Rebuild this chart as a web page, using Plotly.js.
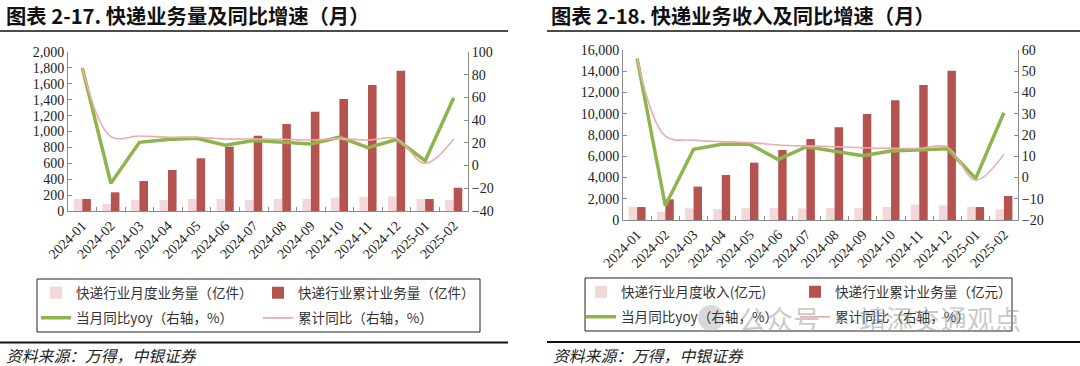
<!DOCTYPE html>
<html>
<head>
<meta charset="utf-8">
<script src="https://cdn.plot.ly/plotly-3.0.1.min.js"></script>
<style>html,body{margin:0;padding:0;background:#fff;}#chart{width:1080px;height:366px;}</style>
</head>
<body>
<div id="chart"></div>
<script>
// ---- data ----
const months = ['2024-01','2024-02','2024-03','2024-04','2024-05','2024-06','2024-07','2024-08','2024-09','2024-10','2024-11','2024-12','2025-01','2025-02'];

// left chart: express volume (亿件) and yoy (%)
const volMonthly = [151, 88, 138, 138, 151, 151, 138, 151, 151, 168, 176, 184, 151, 138];
const volCum     = [151, 235, 377, 516, 663, 809, 947, 1094, 1249, 1409, 1585, 1765, 151, 293];
const volYoy     = [86, -15.6, 20.5, 23, 24, 18, 22, 20.5, 19, 25, 15.8, 23, 4.3, 59.8];
const volCumYoy  = [86, 25.5, 26, 25, 25, 23.4, 23.4, 23.2, 22.5, 23.7, 22.5, 23.7, 2, 23.4];

// right chart: express revenue (亿元) and yoy (%)
const revMonthly = [1250, 784, 1098, 1035, 1130, 1130, 1098, 1130, 1130, 1224, 1443, 1380, 1250, 1004];
const revCum     = [1220, 1948, 3137, 4235, 5396, 6588, 7624, 8725, 9976, 11264, 12706, 14052, 1220, 2259];
const revYoy     = [56, -13.3, 13.3, 15.6, 15.6, 8.5, 14.5, 12.2, 10.3, 12.5, 13, 13.5, -0.4, 30.5];
const revCumYoy  = [56, 19.5, 17.6, 16.9, 16.4, 15.3, 14.8, 14.5, 14, 13.7, 13.7, 14.3, -1.2, 11];

const leftTicks = [-40, -20, 0, 20, 40, 60, 80, 100];

// ---- styles ----
const C_LIGHT = '#F2D8D8';
const C_DARK  = '#B45350';
const C_GREEN = '#8DB54C';
const C_PINK  = '#ECACA9';
const AXIS_C  = '#8a8a8a';
const NUM_FONT = {family: 'Liberation Serif, DejaVu Serif, serif', size: 14, color: '#222'};
const CJK = 'Noto Sans CJK SC, sans-serif';
const W = 1080, H = 366;
const px = v => v / W;
const py = v => (H - v) / H;

const traces = [
  {type:'bar', name:'快递行业月度业务量（亿件）', x: months, y: volMonthly, xaxis:'x', yaxis:'y', marker:{color:C_LIGHT}, legend:'legend'},
  {type:'bar', name:'快递行业累计业务量（亿件）', x: months, y: volCum, xaxis:'x', yaxis:'y', marker:{color:C_DARK}, legend:'legend'},
  {type:'scatter', mode:'lines', name:'当月同比yoy（右轴，%）', x: months, y: volYoy, xaxis:'x', yaxis:'y2', line:{color:C_GREEN, width:3.5}, legend:'legend2'},
  {type:'scatter', mode:'lines', name:'累计同比（右轴，%）', x: months, y: volCumYoy, xaxis:'x', yaxis:'y2', line:{color:C_PINK, width:1.6, shape:'spline', smoothing:1}, legend:'legend2'},

  {type:'bar', name:'快递行业月度收入(亿元)', x: months, y: revMonthly, xaxis:'x2', yaxis:'y3', marker:{color:C_LIGHT}, legend:'legend3'},
  {type:'bar', name:'快递行业累计业务量（亿元）', x: months, y: revCum, xaxis:'x2', yaxis:'y3', marker:{color:C_DARK}, legend:'legend3'},
  {type:'scatter', mode:'lines', name:'当月同比yoy（右轴，%）', x: months, y: revYoy, xaxis:'x2', yaxis:'y4', line:{color:C_GREEN, width:3.5}, legend:'legend4'},
  {type:'scatter', mode:'lines', name:'累计同比（右轴，%）', x: months, y: revCumYoy, xaxis:'x2', yaxis:'y4', line:{color:C_PINK, width:1.6, shape:'spline', smoothing:1}, legend:'legend4'}
];

const xCommon = {
  type:'category', showline:true, linecolor:AXIS_C, linewidth:1, ticks:'inside', ticklen:4,
  tickcolor:AXIS_C, tickson:'boundaries', tickangle:-45, tickfont:NUM_FONT, showgrid:false, zeroline:false, fixedrange:true
};
const yCommon = {
  showline:true, linecolor:AXIS_C, linewidth:1, ticks:'inside', ticklen:4, tickcolor:AXIS_C,
  tickfont:NUM_FONT, showgrid:false, zeroline:false, fixedrange:true
};

const legCommon = {
  orientation:'h', xanchor:'left', yanchor:'middle', bgcolor:'rgba(0,0,0,0)', borderwidth:0,
  font:{family:CJK, size:13.6, color:'#333'}, traceorder:'normal', entrywidthmode:'pixels'
};

const layout = {
  width: W, height: H,
  margin:{l:0, r:0, t:0, b:0},
  paper_bgcolor:'#fff', plot_bgcolor:'rgba(0,0,0,0)',
  barmode:'group', bargap:0.4, bargroupgap:0,
  showlegend:true,
  xaxis: Object.assign({}, xCommon, {domain:[px(68), px(468)], anchor:'y'}),
  yaxis: Object.assign({}, yCommon, {domain:[py(211), py(52)], range:[0, 2000], dtick:200, tickformat:',.0f', anchor:'x'}),
  yaxis2: Object.assign({}, yCommon, {overlaying:'y', side:'right', anchor:'x', range:[-40, 100], tickvals:leftTicks}),
  xaxis2: Object.assign({}, xCommon, {domain:[px(623), px(1018)], anchor:'y3'}),
  yaxis3: Object.assign({}, yCommon, {domain:[py(220), py(50)], range:[0, 16000], dtick:2000, tickformat:',.0f', anchor:'x2'}),
  yaxis4: Object.assign({}, yCommon, {overlaying:'y3', side:'right', anchor:'x2', range:[-20, 60], dtick:10}),

  legend:  Object.assign({}, legCommon, {x:px(36), y:py(293), entrywidth:177}),
  legend2: Object.assign({}, legCommon, {x:px(36), y:py(318), entrywidth:177}),
  legend3: Object.assign({}, legCommon, {x:px(581), y:py(292), entrywidth:169}),
  legend4: Object.assign({}, legCommon, {x:px(581), y:py(317), entrywidth:169}),

  shapes: [
    {type:'line', xref:'paper', yref:'paper', x0:0, x1:px(508), y0:py(31), y1:py(31), line:{color:'#111', width:1.5}},
    {type:'line', xref:'paper', yref:'paper', x0:px(547), x1:1, y0:py(31), y1:py(31), line:{color:'#111', width:1.5}},
    {type:'line', xref:'paper', yref:'paper', x0:0, x1:px(508), y0:py(342.5), y1:py(342.5), line:{color:'#111', width:2}},
    {type:'line', xref:'paper', yref:'paper', x0:px(547), x1:1, y0:py(342), y1:py(342), line:{color:'#111', width:2}},
    {type:'rect', xref:'paper', yref:'paper', x0:px(37), x1:px(480), y0:py(332), y1:py(279), line:{color:'#222', width:1}},
    {type:'rect', xref:'paper', yref:'paper', x0:px(585), x1:px(1012), y0:py(331), y1:py(278), line:{color:'#222', width:1}},
    {type:'circle', xref:'paper', yref:'paper', x0:px(698), x1:px(724), y0:py(331), y1:py(305), fillcolor:'rgba(170,170,170,0.45)', line:{width:0}}
  ],
  annotations: [
    {xref:'paper', yref:'paper', x:px(4), y:py(15), xanchor:'left', yanchor:'middle', showarrow:false,
     text:'<b>图表 2-17. 快递业务量及同比增速（月）</b>', font:{family:CJK, size:20.3, color:'#111'}},
    {xref:'paper', yref:'paper', x:px(549), y:py(15), xanchor:'left', yanchor:'middle', showarrow:false,
     text:'<b>图表 2-18. 快递业务收入及同比增速（月）</b>', font:{family:CJK, size:20.3, color:'#111'}},
    {xref:'paper', yref:'paper', x:px(4), y:py(355), xanchor:'left', yanchor:'middle', showarrow:false,
     text:'<i>资料来源：万得，中银证券</i>', font:{family:CJK, size:15.8, color:'#222'}},
    {xref:'paper', yref:'paper', x:px(551), y:py(355), xanchor:'left', yanchor:'middle', showarrow:false,
     text:'<i>资料来源：万得，中银证券</i>', font:{family:CJK, size:15.8, color:'#222'}},
    {xref:'paper', yref:'paper', x:px(880), y:py(318), xanchor:'center', yanchor:'middle', showarrow:false,
     text:'公众号 · 靖添交通观点', font:{family:CJK, size:27, color:'rgba(150,150,150,0.5)'}}
  ]
};

Plotly.newPlot('chart', traces, layout, {staticPlot:true, displayModeBar:false});
</script>
</body>
</html>
